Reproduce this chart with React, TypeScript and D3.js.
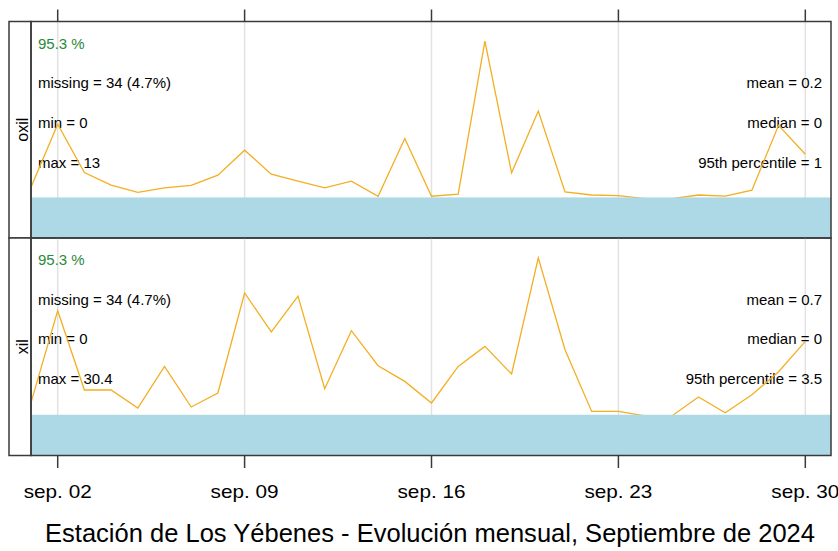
import React from "react";
import * as d3 from "d3";

// ---- data ----
const dayOfMonth = [1, 2, 3, 4, 5, 6, 7, 8, 9, 10, 11, 12, 13, 14, 15, 16, 17, 18, 19, 20, 21, 22, 23, 24, 25, 26, 27, 28, 29, 30];
const oxilValues = [0.95, 6.14, 2.16, 1.11, 0.51, 0.89, 1.09, 1.94, 4.0, 2.02, 1.45, 0.89, 1.44, 0.2, 4.96, 0.2, 0.37, 13, 2.13, 7.23, 0.56, 0.3, 0.25, 0, 0, 0.3, 0.2, 0.7, 6.05, 3.67];
const xilValues = [2.55, 20.23, 4.99, 4.99, 1.53, 9.53, 1.72, 4.41, 23.63, 16.14, 23.02, 5.24, 16.39, 9.66, 6.64, 2.49, 9.53, 13.37, 8.06, 30.4, 12.74, 0.87, 0.87, 0, 0, 3.64, 0.6, 4.08, 8.5, 14.33];

const panelNames = ["oxil", "xil"];
const captureLabels = ["95.3 %", "95.3 %"];
const missingLabels = ["missing = 34 (4.7%)", "missing = 34 (4.7%)"];
const minLabels = ["min = 0", "min = 0"];
const maxLabels = ["max = 13", "max = 30.4"];
const meanLabels = ["mean = 0.2", "mean = 0.7"];
const medianLabels = ["median = 0", "median = 0"];
const p95Labels = ["95th percentile = 1", "95th percentile = 3.5"];

const tickDays = [2, 9, 16, 23, 30];
const tickLabels = ["sep. 02", "sep. 09", "sep. 16", "sep. 23", "sep. 30"];
const title = "Estación de Los Yébenes - Evolución mensual, Septiembre de 2024";

// ---- layout ----
const W = 838;
const H = 551;
const stripL = 9;
const plotL = 31;
const plotR = 831;
const panelTops = [21.5, 238];
const panelBottoms = [238, 455.5];
const FONT = "'Liberation Sans', Arial, Helvetica, sans-serif";
const LINE = "#F4AE22";
const BLUE = "#ADD8E6";
const BORDER = "#3a3a3a";
const GRID = "#e2e2e2";
const GREEN = "#2a8a3a";

export default function App() {
  const x = d3
    .scaleTime()
    .domain([new Date(2024, 8, 1), new Date(2024, 9, 1)])
    .range([plotL, plotR + 1]);
  const series = [oxilValues, xilValues];

  return (
    <svg
      width={W}
      height={H}
      style={{ position: "absolute", left: 0, top: 0, background: "#fff" }}
      fontFamily={FONT}
    >
      <rect x={0} y={0} width={W} height={H} fill="#fff" />
      {series.map((vals, i) => {
        const top = panelTops[i];
        const bot = panelBottoms[i];
        const M = d3.max(vals) as number;
        const y = d3.scaleLinear().domain([-0.25 * M, 1.125 * M]).range([bot, top]);
        const pts = dayOfMonth.map((d, k) => [x(new Date(2024, 8, d)), y(vals[k])] as [number, number]);
        const line = d3.line()(pts) as string;
        const rowY = (r: number) => top + 22 + r * 39.6;
        const barTop = y(0) - 1.2;
        return (
          <g key={i}>
            {/* grid */}
            {tickDays.map((d) => (
              <line key={d} x1={x(new Date(2024, 8, d))} x2={x(new Date(2024, 8, d))} y1={top} y2={bot} stroke={GRID} strokeWidth={1.5} />
            ))}
            {/* stats text */}
            <text x={38} y={rowY(0)} dy="0.35em" fontSize={15} fill={GREEN}>{captureLabels[i]}</text>
            <text x={38} y={rowY(1)} dy="0.35em" fontSize={15} fill="#000">{missingLabels[i]}</text>
            <text x={38} y={rowY(2)} dy="0.35em" fontSize={15} fill="#000">{minLabels[i]}</text>
            <text x={38} y={rowY(3)} dy="0.35em" fontSize={15} fill="#000">{maxLabels[i]}</text>
            <text x={822} y={rowY(1)} dy="0.35em" fontSize={15} fill="#000" textAnchor="end">{meanLabels[i]}</text>
            <text x={822} y={rowY(2)} dy="0.35em" fontSize={15} fill="#000" textAnchor="end">{medianLabels[i]}</text>
            <text x={822} y={rowY(3)} dy="0.35em" fontSize={15} fill="#000" textAnchor="end">{p95Labels[i]}</text>
            {/* data line */}
            <path d={line} fill="none" stroke={LINE} strokeWidth={1.3} />
            {/* data capture bar */}
            <rect x={plotL} y={barTop} width={plotR - plotL} height={bot - barTop} fill={BLUE} />
            {/* strip */}
            <rect x={stripL} y={top} width={plotL - stripL} height={bot - top} fill="#fff" stroke={BORDER} strokeWidth={1.5} />
            <text
              transform={`translate(${plotL - 3},${(top + bot) / 2}) rotate(-90)`}
              textAnchor="middle"
              fontSize={16}
              fill="#000"
            >
              {panelNames[i]}
            </text>
            {/* panel border */}
            <rect x={plotL} y={top} width={plotR - plotL} height={bot - top} fill="none" stroke={BORDER} strokeWidth={1.5} />
          </g>
        );
      })}
      {/* ticks top and bottom */}
      {tickDays.map((d) => {
        const px = x(new Date(2024, 8, d));
        return (
          <g key={d}>
            <line x1={px} x2={px} y1={9.5} y2={panelTops[0]} stroke={BORDER} strokeWidth={1.5} />
            <line x1={px} x2={px} y1={panelBottoms[1]} y2={468} stroke={BORDER} strokeWidth={1.5} />
          </g>
        );
      })}
      {tickLabels.map((t, k) => (
        <text
          key={t}
          x={x(new Date(2024, 8, tickDays[k]))}
          y={498}
          textAnchor="middle"
          fontSize={19}
          textLength={68}
          lengthAdjust="spacingAndGlyphs"
          fill="#000"
        >
          {t}
        </text>
      ))}
      <text
        x={430}
        y={542}
        textAnchor="middle"
        fontSize={25}
        textLength={770}
        lengthAdjust="spacingAndGlyphs"
        fill="#000"
      >
        {title}
      </text>
    </svg>
  );
}
